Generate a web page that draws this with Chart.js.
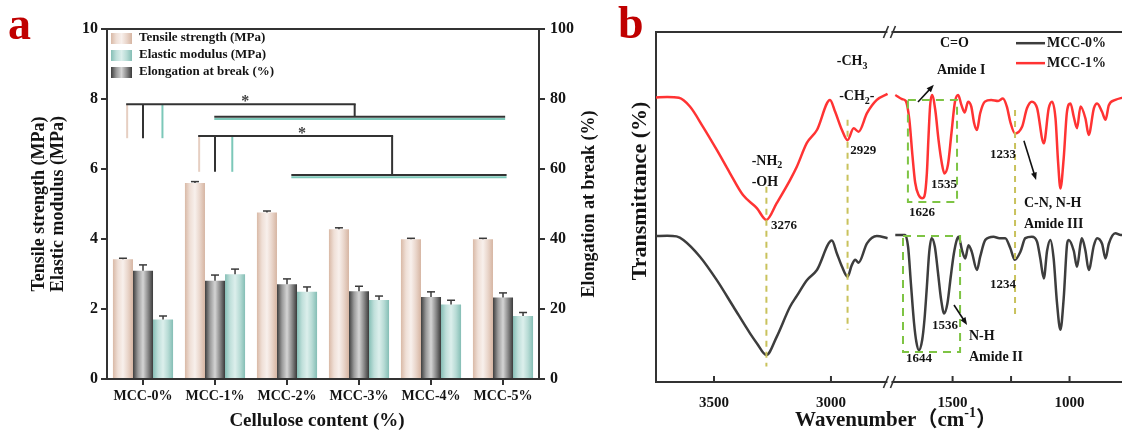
<!DOCTYPE html>
<html>
<head>
<meta charset="utf-8">
<script src="https://cdn.jsdelivr.net/npm/chart.js@4.4.1/dist/chart.umd.min.js"></script>
<style>
  html, body { margin: 0; padding: 0; background: #fff; overflow: hidden; width: 1122px; height: 431px; }
  #pa { position: absolute; left: 0; top: 0; }
  #pb { position: absolute; left: 590px; top: 0; }
</style>
</head>
<body>
<canvas id="pa" width="620" height="431"></canvas>
<canvas id="pb" width="560" height="431"></canvas>
<script>
// ---- panel a : mechanical properties ----
var categories = ['MCC-0%', 'MCC-1%', 'MCC-2%', 'MCC-3%', 'MCC-4%', 'MCC-5%'];
var tensileStrength = [3.42, 5.60, 4.76, 4.28, 3.99, 3.99];
var tensileError = [0.03, 0.04, 0.04, 0.04, 0.03, 0.03];
var elongationBreak = [30.9, 28.1, 27.1, 25.1, 23.4, 23.3];
var elongationError = [1.7, 1.6, 1.5, 1.4, 1.5, 1.3];
var elasticModulus = [1.70, 2.99, 2.49, 2.26, 2.13, 1.80];
var elasticError = [0.10, 0.15, 0.14, 0.11, 0.12, 0.10];

// significance brackets, x in category units, y in MPa
var sigBrackets = [
    { legs: [-0.22, 0, 0.27], top: 7.85, foot: 6.88, right: 2.94, drop: 7.49, span: [0.99, 5.03], star: 1.42 },
    { legs: [0.78, 1.0, 1.24], top: 6.94, foot: 5.92, right: 3.46, drop: 5.83, span: [2.06, 5.05], star: 2.21 }
];

// ---- panel b : FTIR spectra ----
var mcc0Wave = [3750, 3700, 3660, 3631, 3560, 3488, 3417, 3346, 3317, 3276,
    3232, 3175, 3146, 3103, 3060, 2996, 2975, 2953, 2929, 2911,
    2896, 2882, 2846, 2804, 2758, 2250,
    1745, 1703, 1690, 1678, 1665, 1655, 1644, 1630, 1620, 1610,
    1600, 1590, 1576, 1562, 1550, 1536, 1522, 1508, 1495, 1482,
    1474, 1460, 1446, 1432, 1418, 1396, 1382, 1360, 1325, 1300,
    1275, 1253, 1234, 1210, 1189, 1161, 1139, 1125, 1110, 1096,
    1082, 1068, 1054, 1039, 1025, 1011, 1004, 982, 968, 953,
    947, 932, 918, 896, 882, 861, 846, 832, 804, 781,
    740, 700, 660];
var mcc0Trans = [41.7, 41.8, 41.6, 40.6, 35.8, 29.1, 21.5, 13.9, 11.1, 7.7,
    12.9, 21.5, 24.6, 29.1, 32.0, 40.4, 36.8, 33.0, 30.1, 33.4,
    34.9, 34.1, 39.6, 41.7, 41.1, null,
    42.0, 42.0, 38.5, 28.0, 17.0, 11.5, 9.1, 12.0, 18.0, 27.2,
    37.0, 41.1, 38.7, 31.0, 24.0, 19.6, 22.5, 30.0, 36.5, 40.6,
    41.5, 37.7, 35.3, 39.1, 37.2, 32.0, 35.8, 40.6, 41.5, 41.1,
    41.1, 38.2, 34.9, 37.2, 41.1, 41.5, 40.1, 35.3, 29.6, 37.5,
    40.6, 35.3, 22.9, 14.9, 23.9, 39.1, 40.6, 37.5, 32.9, 39.5,
    41.1, 37.5, 32.0, 39.0, 41.1, 39.5, 35.3, 39.5, 42.5, 42.0,
    42.3, 42.3, 42.3];
var mcc1Wave = [3750, 3700, 3650, 3603, 3547, 3488, 3432, 3376, 3317, 3276,
    3232, 3175, 3146, 3103, 3060, 3004, 2982, 2953, 2929, 2903,
    2882, 2846, 2804, 2758, 2250,
    1745, 1715, 1700, 1685, 1672, 1660, 1645, 1630, 1620, 1610,
    1603, 1596, 1588, 1574, 1560, 1546, 1535, 1520, 1505, 1490,
    1476, 1462, 1448, 1434, 1420, 1408, 1396, 1382, 1362, 1335,
    1305, 1285, 1268, 1252, 1233, 1203, 1182, 1161, 1139, 1110,
    1089, 1075, 1060, 1049, 1039, 1025, 1011, 996, 982, 968,
    953, 932, 918, 896, 882, 861, 846, 832, 804, 781,
    740, 700, 660];
var mcc1Trans = [81.3, 81.4, 81.2, 78.7, 72.9, 66.3, 59.7, 53.4, 49.7, 46.3,
    51.1, 57.7, 61.5, 68.3, 72.0, 80.6, 77.2, 72.0, 69.1, 72.5,
    71.5, 76.8, 80.6, 82.3, null,
    82.0, 80.8, 80.3, 75.0, 65.0, 57.0, 53.4, 52.5, 53.2, 59.6,
    70.0, 79.0, 82.0, 77.7, 69.1, 62.5, 59.6, 62.0, 71.0, 80.0,
    82.0, 79.1, 77.0, 80.1, 78.7, 74.0, 72.0, 76.8, 80.1, 80.6,
    80.3, 81.0, 78.7, 74.0, 71.0, 72.9, 78.2, 80.1, 78.3, 68.2,
    78.2, 80.1, 75.3, 62.9, 55.3, 63.9, 77.2, 79.6, 75.8, 72.5,
    78.7, 75.3, 70.6, 78.2, 79.6, 77.2, 74.9, 79.1, 80.6, 81.1,
    81.5, 81.5, 81.5];
var waveTicks = [3500, 3000, 1500, 1250, 1000];

// peak labels (left edge at wave, middle at t)
var peakNotes = [
    { text: ['-CH', { sub: '3' }], wave: 2975, t: 91.5 },
    { text: ['-CH', { sub: '2' }, '-'], wave: 2965, t: 81.5 },
    { text: ['C=O'], wave: 1554, t: 96.8 },
    { text: ['Amide I'], wave: 1567, t: 89.1 },
    { text: ['-NH', { sub: '2' }], wave: 3339, t: 63.0 },
    { text: ['-OH'], wave: 3339, t: 57.1 },
    { text: ['3276'], wave: 3256, t: 44.6, size: 13 },
    { text: ['2929'], wave: 2918, t: 66.0, size: 13 },
    { text: ['1626'], wave: 1686, t: 48.3, size: 13 },
    { text: ['1535'], wave: 1592, t: 56.3, size: 13 },
    { text: ['1233'], wave: 1340, t: 64.9, size: 13 },
    { text: ['C-N, N-H'], wave: 1195, t: 50.9 },
    { text: ['Amide III'], wave: 1195, t: 45.1 },
    { text: ['1234'], wave: 1340, t: 27.7, size: 13 },
    { text: ['1536'], wave: 1588, t: 16.0, size: 13 },
    { text: ['1644'], wave: 1699, t: 6.6, size: 13 },
    { text: ['N-H'], wave: 1430, t: 12.9 },
    { text: ['Amide II'], wave: 1430, t: 7.1 }
];
var peakGuides = [
    { wave: 3276, from: 55.8, to: 4.4 },
    { wave: 2929, from: 74.9, to: 14.9 },
    { wave: 1233, from: 77.7, to: 18.2 }
];
var amideBoxes = [
    { waves: [1691, 1481], t: [80.6, 51.4] },
    { waves: [1712, 1468], t: [41.7, 8.6] }
];
var noteArrows = [
    { from: [1648, 80.0], to: [1580, 84.9] },
    { from: [1195, 68.9], to: [1143, 57.7] },
    { from: [1494, 22.0], to: [1438, 16.3] }
];

var SERIF = '"Liberation Serif", "Times New Roman", "Noto Sans CJK SC", serif';
var INK = '#141414';
var AXIS = '#333333';
var PANEL_RED = '#c00000';

Chart.defaults.font.family = SERIF;
Chart.defaults.font.weight = 'bold';
Chart.defaults.color = INK;

function font(size) { return 'bold ' + size + 'px ' + SERIF; }

function line(ctx, x0, y0, x1, y1, colour) {
    ctx.strokeStyle = colour;
    ctx.beginPath();
    ctx.moveTo(x0, y0);
    ctx.lineTo(x1, y1);
    ctx.stroke();
}

function arrow(ctx, x0, y0, x1, y1) {
    var a = Math.atan2(y1 - y0, x1 - x0), h = 8;
    line(ctx, x0, y0, x1 - Math.cos(a) * h * 0.6, y1 - Math.sin(a) * h * 0.6, '#111');
    ctx.fillStyle = '#111';
    ctx.beginPath();
    ctx.moveTo(x1, y1);
    ctx.lineTo(x1 - h * Math.cos(a - 0.38), y1 - h * Math.sin(a - 0.38));
    ctx.lineTo(x1 - h * Math.cos(a + 0.38), y1 - h * Math.sin(a + 0.38));
    ctx.closePath();
    ctx.fill();
}

// text with sub/superscripts, parts are strings or {sub}/{sup}
function richText(ctx, parts, x, y, size, align) {
    var pieces = parts.map(function(p) {
        if (typeof p === 'string') return { s: p, f: size, dy: 0 };
        if (p.sub) return { s: p.sub, f: Math.round(size * 0.72), dy: size * 0.3 };
        return { s: p.sup, f: Math.round(size * 0.65), dy: -size * 0.38 };
    });
    var width = 0;
    pieces.forEach(function(p) {
        ctx.font = font(p.f);
        p.w = ctx.measureText(p.s).width;
        width += p.w;
    });
    var cx = align === 'center' ? x - width / 2 : x;
    ctx.textAlign = 'left';
    ctx.textBaseline = 'middle';
    pieces.forEach(function(p) {
        ctx.font = font(p.f);
        ctx.fillText(p.s, cx, y + p.dy);
        cx += p.w;
    });
}

function rotatedText(ctx, text, x, y, size) {
    ctx.save();
    ctx.translate(x, y);
    ctx.rotate(-Math.PI / 2);
    ctx.font = font(size);
    ctx.textAlign = 'center';
    ctx.textBaseline = 'middle';
    ctx.fillText(text, 0, 0);
    ctx.restore();
}

function fillShade(ctx, shade, x0, x1) {
    var g = ctx.createLinearGradient(x0, 0, x1, 0);
    shade.forEach(function(c, k) { g.addColorStop(k / (shade.length - 1), c); });
    return g;
}

var shades = {
    tensile: ['#d9b9a6', '#efdfd6', '#f8f0ec', '#e9d5ca', '#d6b5a2'],
    elongation: ['#3e3e3e', '#9a9a9a', '#d4d4d4', '#8a8a8a', '#3a3a3a'],
    modulus: ['#86bfb6', '#bfdfda', '#dcefec', '#b7dbd5', '#84beb5']
};

// ---------------- panel a ----------------
var cylinderBars = {
    id: 'cylinderBars',
    beforeDatasetsDraw: function(chart) {
        var ctx = chart.ctx;
        chart.data.datasets.forEach(function(ds, i) {
            chart.getDatasetMeta(i).data.forEach(function(bar) {
                var half = bar.width / 2;
                bar.options = Object.assign({}, bar.options, {
                    backgroundColor: fillShade(ctx, ds.shade, bar.x - half, bar.x + half)
                });
            });
        });
    }
};

var errorBars = {
    id: 'errorBars',
    afterDatasetsDraw: function(chart) {
        var ctx = chart.ctx;
        ctx.save();
        ctx.lineWidth = 1.5;
        chart.data.datasets.forEach(function(ds, i) {
            var meta = chart.getDatasetMeta(i);
            var scale = chart.scales[meta.yAxisID];
            meta.data.forEach(function(bar, k) {
                var tip = scale.getPixelForValue(ds.data[k] + ds.errors[k]);
                line(ctx, bar.x, bar.y, bar.x, tip, '#3a3a3a');
                line(ctx, bar.x - 4, tip, bar.x + 4, tip, '#3a3a3a');
            });
        });
        ctx.restore();
    }
};

var significance = {
    id: 'significance',
    afterDatasetsDraw: function(chart) {
        var ctx = chart.ctx, x = chart.scales.x, y = chart.scales.y;
        var c0 = x.getPixelForValue(0), step = x.getPixelForValue(1) - c0;
        var px = function(u) { return c0 + u * step; };
        var legColours = ['#e6cfc2', '#333333', '#7cc8b9'];
        ctx.save();
        ctx.lineWidth = 2;
        sigBrackets.forEach(function(b) {
            var top = y.getPixelForValue(b.top), foot = y.getPixelForValue(b.foot);
            var drop = y.getPixelForValue(b.drop);
            b.legs.forEach(function(u, k) { line(ctx, px(u), top, px(u), foot, legColours[k]); });
            line(ctx, px(b.legs[0]) - 1, top, px(b.right) + 1, top, '#333333');
            line(ctx, px(b.right), top, px(b.right), drop, '#333333');
            line(ctx, px(b.span[0]), drop + 2.2, px(b.span[1]), drop + 2.2, '#7cc8b9');
            line(ctx, px(b.span[0]), drop, px(b.span[1]), drop, '#333333');
            ctx.fillStyle = '#444';
            ctx.font = font(16);
            ctx.textAlign = 'center';
            ctx.textBaseline = 'alphabetic';
            ctx.fillText('*', px(b.star), top + 2);
        });
        ctx.restore();
    }
};

var decorA = {
    id: 'decorA',
    afterDraw: function(chart) {
        var ctx = chart.ctx, area = chart.chartArea;
        ctx.save();
        ctx.lineWidth = 2;
        line(ctx, area.left - 1, area.top, area.right + 1, area.top, AXIS);

        // legend
        var rows = [
            ['Tensile strength (MPa)', shades.tensile],
            ['Elastic modulus (MPa)', shades.modulus],
            ['Elongation at break (%)', shades.elongation]
        ];
        rows.forEach(function(r, k) {
            var cy = area.top + 9 + k * 17;
            ctx.fillStyle = fillShade(ctx, r[1], area.left + 4, area.left + 25);
            ctx.fillRect(area.left + 4, cy - 5, 21, 11);
            ctx.fillStyle = INK;
            richText(ctx, [r[0]], area.left + 32, cy, 13, 'left');
        });

        // axis titles
        ctx.fillStyle = INK;
        rotatedText(ctx, 'Tensile strength (MPa)', 39, (area.top + area.bottom) / 2, 18);
        rotatedText(ctx, 'Elastic modulus (MPa)', 58, (area.top + area.bottom) / 2, 18);
        rotatedText(ctx, 'Elongation at break (%)', area.right + 50, (area.top + area.bottom) / 2, 18);
        richText(ctx, ['Cellulose content (%)'], (area.left + area.right) / 2 - 6, 421, 19, 'center');

        // panel letter
        ctx.fillStyle = PANEL_RED;
        ctx.font = font(46);
        ctx.textAlign = 'left';
        ctx.textBaseline = 'alphabetic';
        ctx.fillText('a', 8, 39);
        ctx.restore();
    }
};

var tickFont = { size: 16, weight: 'bold' };

new Chart(document.getElementById('pa'), {
    type: 'bar',
    data: {
        labels: categories,
        datasets: [
            { label: 'Tensile strength (MPa)', data: tensileStrength, errors: tensileError,
              yAxisID: 'y', shade: shades.tensile, backgroundColor: '#efdfd6' },
            { label: 'Elongation at break (%)', data: elongationBreak, errors: elongationError,
              yAxisID: 'y2', shade: shades.elongation, backgroundColor: '#9a9a9a' },
            { label: 'Elastic modulus (MPa)', data: elasticModulus, errors: elasticError,
              yAxisID: 'y', shade: shades.modulus, backgroundColor: '#bfdfda' }
        ]
    },
    options: {
        responsive: false,
        animation: false,
        events: [],
        layout: { padding: { top: 29, left: 0, right: 0, bottom: 0 } },
        datasets: { bar: { categoryPercentage: 0.835, barPercentage: 1.0, borderWidth: 0 } },
        plugins: { legend: { display: false }, tooltip: { enabled: false } },
        scales: {
            x: {
                offset: true,
                grid: { offset: false, drawOnChartArea: false, tickLength: 6, color: AXIS, lineWidth: 2 },
                border: { display: true, color: AXIS, width: 2 },
                ticks: { font: { size: 14, weight: 'bold' }, padding: 3, color: INK },
                afterFit: function(s) { s.height = 52; }
            },
            y: {
                position: 'left',
                min: 0, max: 10,
                ticks: { stepSize: 2, font: tickFont, padding: 3, color: INK },
                grid: { drawOnChartArea: false, tickLength: 6, color: AXIS, lineWidth: 2 },
                border: { display: true, color: AXIS, width: 2 },
                afterFit: function(s) { s.width = 107; }
            },
            y2: {
                position: 'right',
                min: 0, max: 100,
                ticks: { stepSize: 20, font: tickFont, padding: 5, color: INK },
                grid: { drawOnChartArea: false, tickLength: 6, color: AXIS, lineWidth: 2 },
                border: { display: true, color: AXIS, width: 2 },
                afterFit: function(s) { s.width = 81; }
            }
        }
    },
    plugins: [cylinderBars, errorBars, significance, decorA]
});

// ---------------- panel b ----------------
var WAVE_START = 3748;  // left edge of the plot
var WAVE_END = 656;     // right edge, beyond the crop
var GAP_HIGH = 2750;    // axis jumps from here ...
var GAP_LOW = 1770;     // ... to here
function wavePos(w) {
    if (w > (GAP_HIGH + GAP_LOW) / 2) return WAVE_START - w;
    return (WAVE_START - GAP_HIGH) + (GAP_LOW - w);
}
function waveFromPos(p) {
    if (p <= WAVE_START - GAP_HIGH) return WAVE_START - p;
    return GAP_LOW - (p - (WAVE_START - GAP_HIGH));
}

class BrokenWaveScale extends Chart.LinearScale {
    buildTicks() {
        return waveTicks.map(function(v) { return { value: v }; });
    }
    getPixelForValue(value) {
        if (value === null || value === undefined) return NaN;
        return this.getPixelForDecimal(wavePos(value) / wavePos(WAVE_END));
    }
    getValueForPixel(pixel) {
        return waveFromPos(this.getDecimalForPixel(pixel) * wavePos(WAVE_END));
    }
}
BrokenWaveScale.id = 'brokenWave';
BrokenWaveScale.defaults = {};
Chart.register(BrokenWaveScale);

function points(waves, trans) {
    return waves.map(function(w, i) { return { x: w, y: trans[i] }; });
}

var decorB = {
    id: 'decorB',
    afterDatasetsDraw: function(chart) {
        var ctx = chart.ctx, x = chart.scales.x, y = chart.scales.y, area = chart.chartArea;
        var at = function(w, t) { return [x.getPixelForValue(w), y.getPixelForValue(t)]; };
        ctx.save();

        // dashed guides at the assigned peaks
        ctx.lineWidth = 2;
        ctx.setLineDash([6, 5]);
        peakGuides.forEach(function(g) {
            var a = at(g.wave, g.from), b = at(g.wave, g.to);
            line(ctx, a[0], a[1], b[0], b[1], '#c9c25c');
        });
        ctx.setLineDash([8, 6]);
        amideBoxes.forEach(function(b) {
            var p0 = at(b.waves[0], b.t[0]), p1 = at(b.waves[1], b.t[1]);
            ctx.strokeStyle = '#7ec444';
            ctx.strokeRect(p0[0], p0[1], p1[0] - p0[0], p1[1] - p0[1]);
        });
        ctx.setLineDash([]);

        ctx.lineWidth = 1.6;
        noteArrows.forEach(function(n) {
            var a = at(n.from[0], n.from[1]), b = at(n.to[0], n.to[1]);
            arrow(ctx, a[0], a[1], b[0], b[1]);
        });

        ctx.fillStyle = INK;
        peakNotes.forEach(function(n) {
            var p = at(n.wave, n.t);
            richText(ctx, n.text, p[0], p[1], n.size || 14, 'left');
        });

        // legend
        ctx.lineWidth = 2.5;
        [['MCC-0%', '#3d3d3d', 96.8], ['MCC-1%', '#ff3333', 91.1]].forEach(function(r) {
            var a = at(1229, r[2]), b = at(1105, r[2]);
            line(ctx, a[0], a[1], b[0], b[1], r[1]);
            ctx.fillStyle = INK;
            richText(ctx, [r[0]], b[0] + 2, a[1], 14, 'left');
        });

        // frame, axis break and inward ticks
        ctx.lineWidth = 2;
        line(ctx, area.left - 1, area.top, area.right, area.top, AXIS);
        var xb = (x.getPixelForValue(GAP_HIGH) + x.getPixelForValue(GAP_LOW)) / 2;
        [area.top, area.bottom].forEach(function(yy) {
            ctx.fillStyle = '#fff';
            ctx.fillRect(xb - 2, yy - 2, 4, 4);
            ctx.lineWidth = 1.6;
            line(ctx, xb - 6, yy + 6, xb - 1, yy - 6, AXIS);
            line(ctx, xb + 1, yy + 6, xb + 6, yy - 6, AXIS);
        });
        ctx.lineWidth = 2;
        x.ticks.forEach(function(t, i) {
            var tx = x.getPixelForTick(i);
            line(ctx, tx, area.bottom, tx, area.bottom - 6, AXIS);
        });

        // axis titles
        ctx.fillStyle = INK;
        rotatedText(ctx, 'Transmittance (%)', 50, 191, 22);
        richText(ctx, ['Wavenumber\uFF08cm', { sup: '-1' }, '\uFF09'], 306, 421, 21, 'center');

        ctx.fillStyle = PANEL_RED;
        ctx.font = font(46);
        ctx.textAlign = 'left';
        ctx.textBaseline = 'alphabetic';
        ctx.fillText('b', 28, 38);
        ctx.restore();
    }
};

new Chart(document.getElementById('pb'), {
    type: 'line',
    data: {
        datasets: [
            { label: 'MCC-0%', data: points(mcc0Wave, mcc0Trans), borderColor: '#3d3d3d', borderWidth: 2.5 },
            { label: 'MCC-1%', data: points(mcc1Wave, mcc1Trans), borderColor: '#ff3333', borderWidth: 2.5 }
        ]
    },
    options: {
        responsive: false,
        animation: false,
        events: [],
        spanGaps: false,
        layout: { padding: { top: 32, left: 0, right: 0, bottom: 0 } },
        elements: { point: { radius: 0 }, line: { cubicInterpolationMode: 'monotone' } },
        plugins: { legend: { display: false }, tooltip: { enabled: false } },
        scales: {
            x: {
                type: 'brokenWave',
                min: WAVE_END, max: WAVE_START,
                grid: { display: false, drawTicks: false },
                border: { display: true, color: AXIS, width: 2 },
                ticks: {
                    autoSkip: false, padding: 12, color: INK,
                    font: { size: 15, weight: 'bold' },
                    callback: function(v) { return v === 1250 ? '' : String(v); }
                },
                afterFit: function(s) { s.height = 49; }
            },
            y: {
                min: 0, max: 100,
                ticks: { display: false },
                grid: { display: false },
                border: { display: true, color: AXIS, width: 2 },
                afterFit: function(s) { s.width = 66; }
            }
        }
    },
    plugins: [decorB]
});
</script>
</body>
</html>
